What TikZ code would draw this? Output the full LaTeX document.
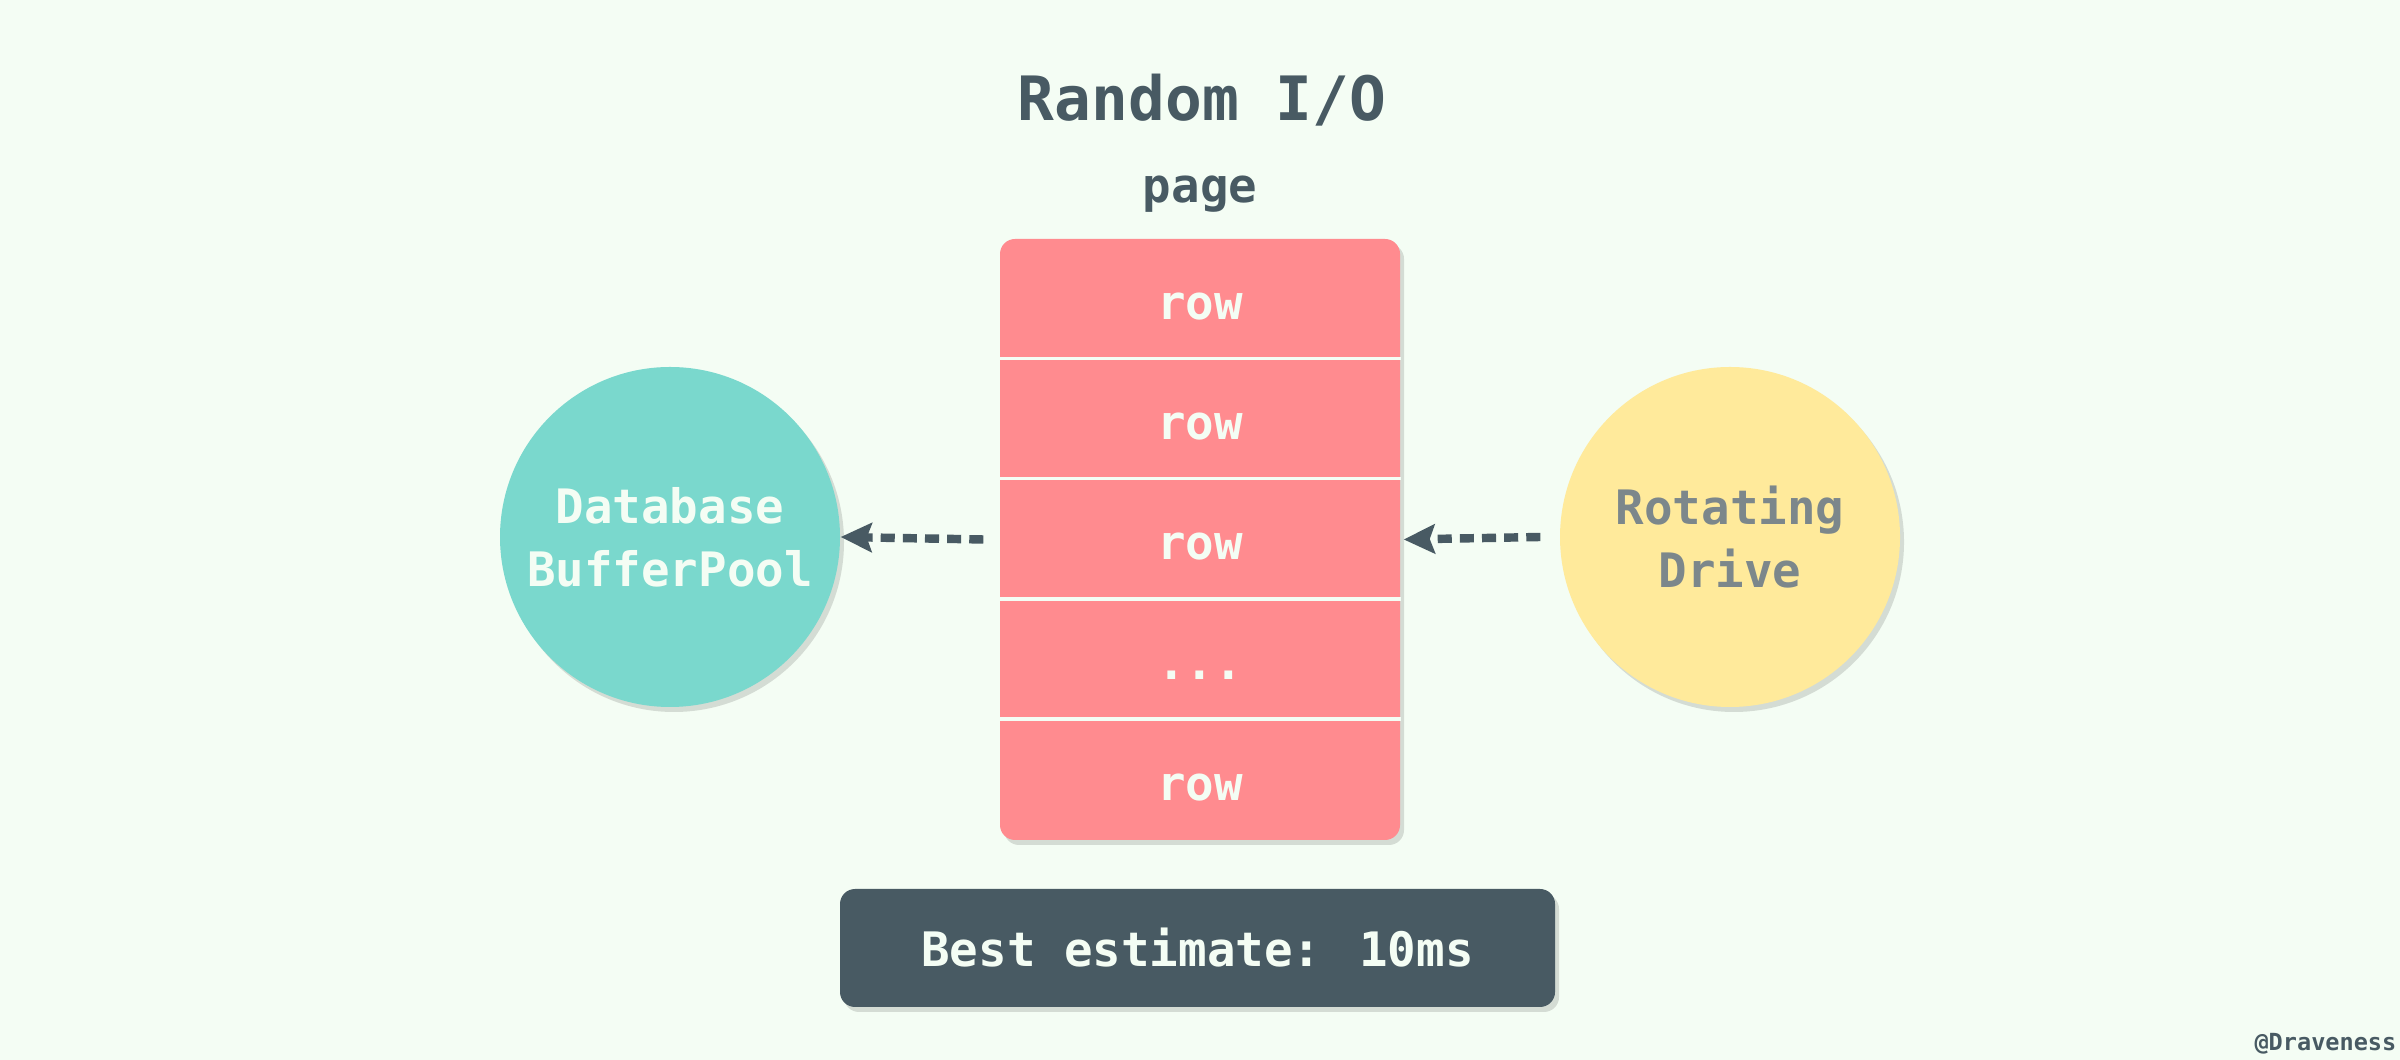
\documentclass[tikz,border=0pt]{standalone}
\usepackage{fontspec}
\usepackage{tkz-euclide}
\usetikzlibrary{arrows.meta, shadows, positioning}
\setmainfont{DejaVu Sans Mono}
\definecolor{mint}{HTML}{F4FDF4}
\definecolor{slate}{HTML}{485A63}
\definecolor{rose}{HTML}{FF8B8F}
\definecolor{teal}{HTML}{7AD8CD}
\definecolor{butter}{HTML}{FFEA9B}
\definecolor{stone}{HTML}{7C878B}
\tikzset{>={Stealth[length=3.1mm, width=2.9mm, inset=0.5mm]}}

\begin{document}
\begin{tikzpicture}[
    soft/.style = {drop shadow={shadow xshift=0.4mm, shadow yshift=-0.5mm, opacity=0.13, fill=black}},
    mono/.style = {font=\bfseries\fontsize{13.5}{18}\selectfont},
    disk/.style = {circle, minimum size=3.4cm, inner sep=0pt, align=center, soft, mono},
    pagebox/.style = {rectangle, rounded corners=0.15cm, fill=rose, minimum width=4cm, minimum height=6.01cm, inner sep=0pt, soft},
    rowcell/.style = {anchor=base, inner sep=0pt, text=mint, mono},
    flow/.style = {->, line width=2.4pt, dash pattern=on 4pt off 2.3pt, slate},
    estimate/.style = {rectangle, rounded corners=0.15cm, fill=slate, text=mint, minimum width=7.15cm, minimum height=1.18cm, soft, mono}
]
    \path[use as bounding box, fill=mint] (0,0) rectangle (24,10.6);
    \tkzDefPoints{6.7/5.23/D, 17.3/5.23/R, 12/5.205/P, 11.975/1.12/E}
    \node[anchor=base, text=slate, font=\bfseries\fontsize{17.4}{20}\selectfont] (title) at (12.02,9.39) {Random I/O};
    \node[anchor=base, text=slate, mono] (pglabel) at (12,8.57) {page};
    \node[pagebox] (pg) at (P) {};
    \foreach \i in {1,...,5}
        \node[rowcell] (r\i) at ([yshift={0.601cm-\i*1.202cm-2.1mm}]pg.north) {\ifnum\i=4 ...\else row\fi};
    \foreach \i in {1,...,4}
        \draw[mint, line width=1pt] ([yshift={-\i*1.202cm}]pg.north west) -- ([yshift={-\i*1.202cm}]pg.north east);
    \node[disk, fill=teal, text=mint] (db) at (D) {Database\\BufferPool};
    \node[disk, fill=butter, text=stone] (drive) at (R) {Rotating\\Drive};
    \draw[flow] ([xshift=-1.6mm]pg.west) -- (db.east);
    \draw[flow] ([xshift=-1.9mm]drive.west) -- ([xshift=0.3mm]pg.east);
    \node[estimate] (est) at (E) {Best estimate: 10ms};
    \node[anchor=base east, inner sep=0pt, text=slate, font=\bfseries\fontsize{6.7}{8}\selectfont] (credit) at (23.97,0.09) {@Draveness};
\end{tikzpicture}
\end{document}
